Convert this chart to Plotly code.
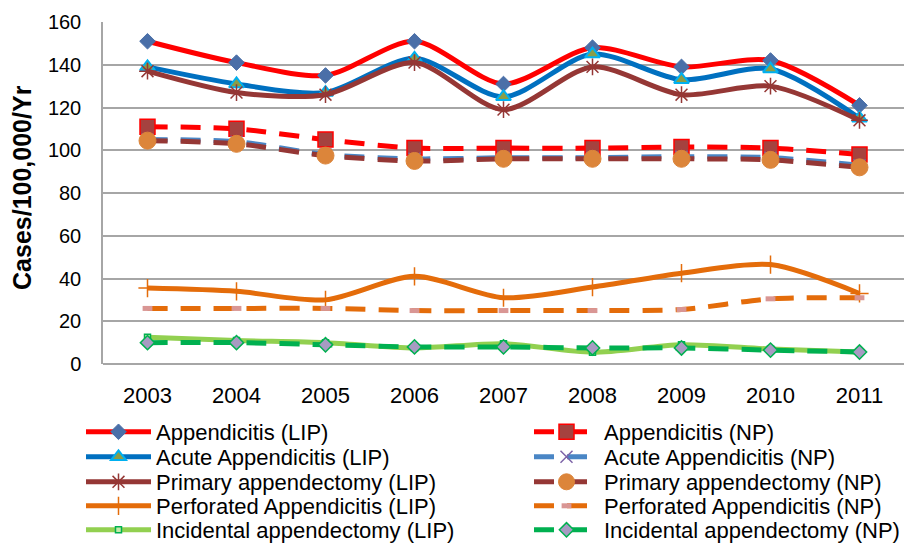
import plotly.graph_objects as go

YEARS = ["2003", "2004", "2005", "2006", "2007", "2008", "2009", "2010", "2011"]

APP_LIP = [151, 141, 135, 151, 131, 148, 139, 142, 121]
ACUTE_LIP = [139, 131, 127, 143, 125, 145, 133, 138, 115]
PRIMARY_LIP = [137, 127, 126, 141, 119, 139, 126, 130, 114]
PERF_LIP = [35.5, 34, 30, 41, 31, 36, 42.5, 46.5, 33]
INCID_LIP = [12.5, 11, 10, 7.5, 9.5, 5.5, 9, 7, 5.6]

APP_NP = [111, 110, 105, 101, 101, 101, 101.5, 101, 98]
ACUTE_NP = [105, 104, 98, 96, 96.5, 96.5, 97, 96.5, 93]
PRIMARY_NP = [104.5, 103, 97.5, 95, 96, 96, 96, 95.5, 92]
PERF_NP = [26, 26, 26, 25, 25, 25, 25.5, 30.5, 31]
INCID_NP = [10, 10, 9, 8, 8, 7.5, 7.5, 6.5, 5.6]

FONT = "Liberation Sans, Arial, sans-serif"
DASH = "20px,13px"

# page body has an 8px margin, so the figure is drawn 8px smaller than the window
W, H = 913, 537

# (name, values, line colour, dash, marker symbol, size, fill, outline, outline width)
series = [
    ("Appendicitis (LIP)", APP_LIP, "#FF0000", "solid", "diamond", 12, "#4A6FA8", "#4A6FA8", 1),
    ("Acute Appendicitis (LIP)", ACUTE_LIP, "#0070C0", "solid", "triangle-up", 13, "#8A9E48", "#00B0F0", 2),
    ("Primary appendectomy (LIP)", PRIMARY_LIP, "#953735", "solid", "asterisk-open", 14, "#953735", "#953735", 1.5),
    ("Perforated Appendicitis (LIP)", PERF_LIP, "#E46C0A", "solid", "cross-thin-open", 13, "#E46C0A", "#E46C0A", 1.5),
    ("Incidental appendectomy (LIP)", INCID_LIP, "#92D050", "solid", "square", 6, "#C6E9A8", "#00B050", 1.5),
    ("Appendicitis (NP)", APP_NP, "#FF0000", DASH, "square", 15, "#A5423F", "#FF0000", 1.5),
    ("Acute Appendicitis (NP)", ACUTE_NP, "#4A86C5", DASH, "x-thin-open", 12, "#7D63A8", "#7D63A8", 1.5),
    ("Primary appendectomy (NP)", PRIMARY_NP, "#953735", DASH, "circle", 17, "#DC853A", "#DC853A", 1),
    ("Perforated Appendicitis (NP)", PERF_NP, "#E46C0A", DASH, "line-ew-open", 7, "#D99694", "#D99694", 5),
    ("Incidental appendectomy (NP)", INCID_NP, "#00B050", DASH, "diamond", 11, "#A79BC2", "#00B050", 1.5),
]

fig = go.Figure()
legend_layout = {}
row_y = [424, 449, 474, 498, 522]
for i, (name, vals, col, dash, sym, size, fill, edge, ew) in enumerate(series):
    key = "legend" if i == 0 else f"legend{i + 1}"
    fig.add_trace(go.Scatter(
        x=YEARS, y=vals, name=name, mode="lines+markers", legend=key,
        line=dict(color=col, width=5, dash=dash, shape="spline", smoothing=0.8),
        marker=dict(symbol=sym, size=size, color=fill, line=dict(color=edge, width=ew)),
    ))
    col_x = 73 if i < 5 else 521
    legend_layout[key] = dict(
        x=col_x / W, y=1 - row_y[i % 5] / H, xref="container", yref="container",
        xanchor="left", yanchor="middle", bgcolor="rgba(0,0,0,0)", borderwidth=0,
        itemwidth=65, font=dict(family=FONT, size=22, color="#000000"),
    )

fig.update_layout(
    width=W, height=H,
    margin=dict(l=95, r=17, t=14, b=181, autoexpand=False),
    paper_bgcolor="white", plot_bgcolor="white",
    font=dict(family=FONT, color="#000000"),
    showlegend=True,
    **legend_layout,
)
fig.add_annotation(
    text="<b>Cases/100,000/Yr</b>", xref="paper", yref="paper", x=-0.101, y=0.515,
    xanchor="center", yanchor="middle", textangle=-90, showarrow=False,
    font=dict(family=FONT, size=25, color="#000000"),
)
fig.update_xaxes(
    type="category", range=[-0.5, 8.5], showgrid=False, showline=False,
    ticks="", ticklabelstandoff=16, tickfont=dict(size=22),
)
fig.update_yaxes(
    range=[0, 160], dtick=20, showgrid=True, gridcolor="#A6A6A6", gridwidth=1.5,
    showline=True, linecolor="#A6A6A6", linewidth=1.5, zeroline=True,
    zerolinecolor="#A6A6A6", zerolinewidth=1.5, ticks="", ticklabelstandoff=16,
    tickfont=dict(size=20),
)

fig.write_html("out.html")
